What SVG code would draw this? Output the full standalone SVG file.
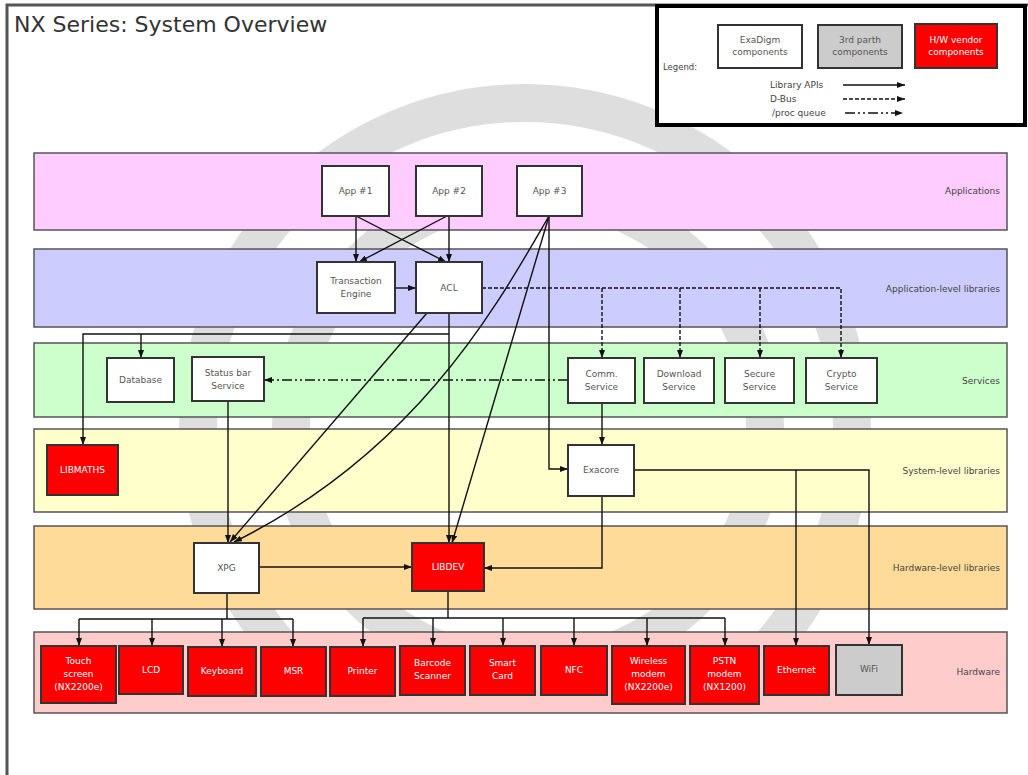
<svg xmlns="http://www.w3.org/2000/svg" width="1028" height="775" viewBox="0 0 1028 775">
<style>
text{font-family:"DejaVu Sans","Liberation Sans",sans-serif;}
.band{stroke:#555;stroke-width:1.5;}
.blabel{font-size:9px;fill:#444;text-anchor:end;}
.box{fill:#fff;stroke:#333;stroke-width:2;}
.red{fill:#f00;stroke:#333;stroke-width:2;}
.gray{fill:#ccc;stroke:#333;stroke-width:2;}
.t{font-size:9px;fill:#555;text-anchor:middle;}
.tw{font-size:9px;fill:#fff;text-anchor:middle;}
.c{fill:none;stroke:#111;stroke-width:1.4;}
.a{marker-end:url(#ah);}
.dbus{stroke-dasharray:4,2;}
.proc{stroke-dasharray:10,3,2,3,2,3;}
</style>
<defs>
<marker id="ah" viewBox="0 0 8 6" refX="8" refY="3" markerWidth="8" markerHeight="6" markerUnits="userSpaceOnUse" orient="auto">
<path d="M0,0 L8,3 L0,6 z" fill="#111"/>
</marker>
<clipPath id="wm"><rect x="0" y="0" width="1028" height="712"/></clipPath>
</defs>
<rect x="0" y="0" width="1028" height="775" fill="#fff"/>
<rect x="7" y="5" width="1030" height="780" fill="none" stroke="#555" stroke-width="3"/>
<g id="watermark" clip-path="url(#wm)" fill="none" stroke="#dedede">
<circle cx="525" cy="430" r="327" stroke-width="38"/>
<circle cx="528" cy="430" r="237" stroke-width="38"/>
</g>
<text x="14" y="32" font-size="22" fill="#333">NX Series: System Overview</text>
<g id="legend">
<rect x="657" y="6" width="368" height="119" fill="#fff" stroke="#000" stroke-width="4"/>
<text x="663" y="70" font-size="8.5" fill="#444">Legend:</text>
<rect x="718" y="25" width="84" height="43" class="box"/>
<text x="760" y="43" class="t">ExaDigm</text><text x="760" y="55" class="t">components</text>
<rect x="818" y="25" width="84" height="43" class="gray"/>
<text x="860" y="43" class="t">3rd parth</text><text x="860" y="55" class="t">components</text>
<rect x="915" y="24" width="82" height="44" class="red"/>
<text x="956" y="43" class="tw">H/W vendor</text><text x="956" y="55" class="tw">components</text>
<text x="770" y="88" font-size="9" fill="#444">Library APIs</text>
<text x="770" y="102" font-size="9" fill="#444">D-Bus</text>
<text x="772" y="116" font-size="9" fill="#444">/proc queue</text>
<path d="M843,85 H905" class="c a" stroke-width="2"/>
<path d="M843,99 H905" class="c a dbus"/>
<path d="M845,113 H903" class="c a proc"/>
</g>
<g id="bands">
<rect x="34" y="153" width="973" height="77" fill="#ffccff" class="band"/>
<rect x="34" y="249" width="973" height="78" fill="#ccccff" class="band"/>
<rect x="34" y="343" width="973" height="74" fill="#ccffcc" class="band"/>
<rect x="34" y="429" width="973" height="83" fill="#ffffcc" class="band"/>
<rect x="34" y="526" width="973" height="83" fill="#ffdb99" class="band"/>
<rect x="34" y="632" width="973" height="81" fill="#ffcccc" class="band"/>
<text x="1000" y="194" class="blabel">Applications</text>
<text x="1000" y="292" class="blabel">Application-level libraries</text>
<text x="1000" y="384" class="blabel">Services</text>
<text x="1000" y="474" class="blabel">System-level libraries</text>
<text x="1000" y="571" class="blabel">Hardware-level libraries</text>
<text x="1000" y="675" class="blabel">Hardware</text>
</g>
<g id="connectors">
<path d="M356,216 V262" class="c a"/>
<path d="M356,216 L446,262" class="c a"/>
<path d="M447,216 L359,262" class="c a"/>
<path d="M449,216 V262" class="c a"/>
<path d="M395,288 H416" class="c a"/>
<path d="M482,288 H841 V358" class="c a dbus"/>
<path d="M602,288 V358" class="c a dbus"/>
<path d="M680,288 V358" class="c a dbus"/>
<path d="M760,288 V358" class="c a dbus"/>
<path d="M549,216 V469 H568" class="c a"/>
<path d="M549,216 L452,543" class="c a"/>
<path d="M549,216 C500,300 420,450 234,542" class="c a"/>
<path d="M427,313 Q335,420 230,542" class="c a"/>
<path d="M228,401 V543" class="c a"/>
<path d="M449,313 V543" class="c a"/>
<path d="M449,334 H83 V445" class="c a"/>
<path d="M141,334 V358" class="c a"/>
<path d="M568,380 H264" class="c a proc"/>
<path d="M602,403 V445" class="c a"/>
<path d="M602,496 V568 H484" class="c a"/>
<path d="M634,470 H869 V645" class="c a"/>
<path d="M796,470 V646" class="c a"/>
<path d="M259,567 H412" class="c a"/>
<path d="M227,593 V619" class="c"/>
<path d="M79,619 H293" class="c"/>
<path d="M79,619 V646" class="c a"/>
<path d="M152,619 V646" class="c a"/>
<path d="M222,619 V647" class="c a"/>
<path d="M293,619 V647" class="c a"/>
<path d="M448,591 V618" class="c"/>
<path d="M363,618 H725" class="c"/>
<path d="M363,618 V647" class="c a"/>
<path d="M433,618 V646" class="c a"/>
<path d="M503,618 V646" class="c a"/>
<path d="M574,618 V646" class="c a"/>
<path d="M647,618 V646" class="c a"/>
<path d="M725,618 V646" class="c a"/>
</g>
<g id="app1"><rect x="322" y="166" width="67" height="50" class="box"/><text x="355.5" y="194" class="t">App #1</text></g>
<g id="app2"><rect x="416" y="166" width="66" height="50" class="box"/><text x="449" y="194" class="t">App #2</text></g>
<g id="app3"><rect x="517" y="166" width="65" height="50" class="box"/><text x="549.5" y="194" class="t">App #3</text></g>
<g id="te"><rect x="317" y="262" width="78" height="51" class="box"/><text x="356" y="284" class="t">Transaction</text><text x="356" y="297" class="t">Engine</text></g>
<g id="acl"><rect x="416" y="262" width="66" height="51" class="box"/><text x="449" y="291" class="t">ACL</text></g>
<g id="database"><rect x="107" y="358" width="67" height="44" class="box"/><text x="140.5" y="383" class="t">Database</text></g>
<g id="statusbar"><rect x="192" y="357" width="72" height="44" class="box"/><text x="228" y="376" class="t">Status bar</text><text x="228" y="389" class="t">Service</text></g>
<g id="comm"><rect x="568" y="358" width="67" height="45" class="box"/><text x="601.5" y="377" class="t">Comm.</text><text x="601.5" y="390" class="t">Service</text></g>
<g id="download"><rect x="644" y="358" width="70" height="45" class="box"/><text x="679" y="377" class="t">Download</text><text x="679" y="390" class="t">Service</text></g>
<g id="secure"><rect x="725" y="358" width="69" height="45" class="box"/><text x="759.5" y="377" class="t">Secure</text><text x="759.5" y="390" class="t">Service</text></g>
<g id="crypto"><rect x="806" y="358" width="71" height="45" class="box"/><text x="841.5" y="377" class="t">Crypto</text><text x="841.5" y="390" class="t">Service</text></g>
<g id="libmaths"><rect x="47" y="445" width="71" height="50" class="red"/><text x="82.5" y="473" class="tw">LIBMATHS</text></g>
<g id="exacore"><rect x="568" y="445" width="66" height="51" class="box"/><text x="601" y="473" class="t">Exacore</text></g>
<g id="xpg"><rect x="194" y="543" width="65" height="50" class="box"/><text x="226.5" y="571" class="t">XPG</text></g>
<g id="libdev"><rect x="412" y="543" width="72" height="48" class="red"/><text x="448" y="570" class="tw">LIBDEV</text></g>
<g id="touch"><rect x="41" y="646" width="75" height="57" class="red"/><text x="78.5" y="664" class="tw">Touch</text><text x="78.5" y="677" class="tw">screen</text><text x="78.5" y="690" class="tw">(NX2200e)</text></g>
<g id="lcd"><rect x="119" y="646" width="64" height="48" class="red"/><text x="151" y="673" class="tw">LCD</text></g>
<g id="keyboard"><rect x="188" y="647" width="68" height="49" class="red"/><text x="222" y="674" class="tw">Keyboard</text></g>
<g id="msr"><rect x="261" y="647" width="65" height="49" class="red"/><text x="293.5" y="674" class="tw">MSR</text></g>
<g id="printer"><rect x="330" y="647" width="65" height="49" class="red"/><text x="362.5" y="674" class="tw">Printer</text></g>
<g id="barcode"><rect x="400" y="646" width="65" height="49" class="red"/><text x="432.5" y="666" class="tw">Barcode</text><text x="432.5" y="679" class="tw">Scanner</text></g>
<g id="smartcard"><rect x="470" y="646" width="65" height="49" class="red"/><text x="502.5" y="666" class="tw">Smart</text><text x="502.5" y="679" class="tw">Card</text></g>
<g id="nfc"><rect x="541" y="646" width="66" height="49" class="red"/><text x="574" y="673" class="tw">NFC</text></g>
<g id="wireless"><rect x="612" y="646" width="73" height="58" class="red"/><text x="648.5" y="664" class="tw">Wireless</text><text x="648.5" y="677" class="tw">modem</text><text x="648.5" y="690" class="tw">(NX2200e)</text></g>
<g id="pstn"><rect x="690" y="646" width="69" height="58" class="red"/><text x="724.5" y="664" class="tw">PSTN</text><text x="724.5" y="677" class="tw">modem</text><text x="724.5" y="690" class="tw">(NX1200)</text></g>
<g id="ethernet"><rect x="764" y="646" width="65" height="49" class="red"/><text x="796.5" y="673" class="tw">Ethernet</text></g>
<g id="wifi"><rect x="836" y="645" width="66" height="50" class="gray"/><text x="869" y="672" class="t">WiFi</text></g>
</svg>
